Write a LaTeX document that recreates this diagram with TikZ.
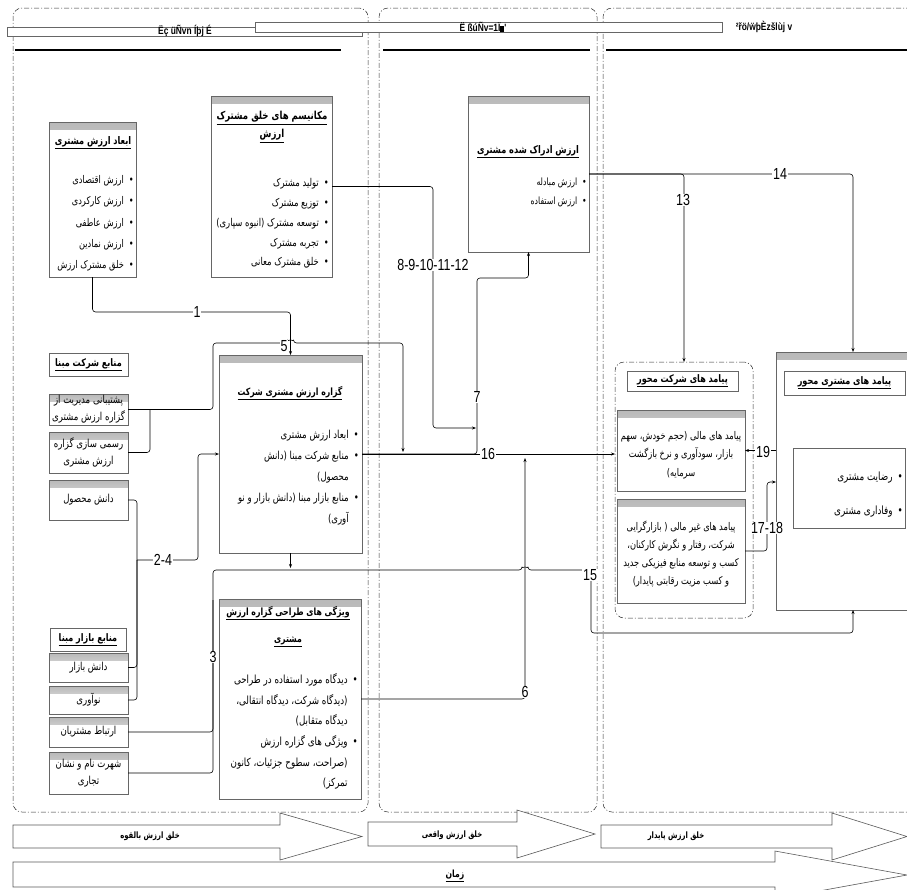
\documentclass[tikz,border=0pt]{standalone}
\usepackage{fontspec}
\setmainfont{Liberation Sans}
\newfontfamily\fa[Script=Arabic,FakeStretch=0.78]{DejaVu Sans}
\newfontfamily\nm[FakeStretch=0.78]{Liberation Sans}
\newfontfamily\gb[FakeStretch=0.8]{Liberation Sans}
\TeXXeTstate=1
\usetikzlibrary{arrows.meta}
\newcommand\rl[1]{\beginR#1\endR}
\newcommand\ult[1]{$\underline{\hbox{\beginR#1\endR}}$}
\newcommand\bu{•\hspace*{5pt}}
\newcommand\ind{\phantom{•}\hspace*{5pt}}
\newcommand\bx[6]{\node[#1, minimum width={#5pt-#3pt}, minimum height={#6pt-#4pt}] (#2) at ({(#3+#5)/2},{(#4+#6)/2}) {};}
\begin{document}
\begin{tikzpicture}[x=1pt,y=-1pt,
  box/.style={draw=gray!80!black, line width=0.7pt, fill=white, inner sep=0pt, outer sep=0pt,
    path picture={\fill[top color=gray!55, bottom color=white] (path picture bounding box.north west) rectangle ([yshift=-7pt]path picture bounding box.north east);}},
  plain/.style={draw=gray!80!black, line width=0.6pt, fill=white, inner sep=0pt, outer sep=0pt},
  region/.style={draw=gray!35!black, line width=0.5pt, dash pattern=on 5pt off 2pt on 1pt off 2pt, rounded corners=9pt, inner sep=0pt, outer sep=0pt},
  conn/.style={draw=black, line width=0.6pt, rounded corners=3pt},
  tip/.style={-{Stealth[length=4pt,width=3pt]}},
  lab/.style={fill=white, inner sep=0.6pt, font=\nm\fontsize{16}{16}\selectfont},
  tx/.style={inner sep=0pt, align=right, font=\fa\fontsize{11}{20}\selectfont},
  tc/.style={inner sep=0pt, align=center, font=\fa\fontsize{11}{17}\selectfont},
  ttl/.style={inner sep=0pt, align=center, font=\fa\bfseries\fontsize{10.5}{18}\selectfont},
  arw/.style={draw=gray!70!black, line width=0.6pt, fill=white},
  hdr/.style={inner sep=0pt, font=\gb\bfseries\fontsize{10.5}{10}\selectfont}
]
\useasboundingbox (0,0) rectangle (907,889);
% regions
\bx{region}{R1}{13}{8}{368}{812}
\bx{region}{R2}{379}{8}{597}{812}
\bx{region}{R3}{603}{8}{930}{812}
% headers
\bx{plain}{H1}{7}{27}{362}{36}
\bx{plain}{H2}{255}{22}{722}{32}
\node[hdr] (h1) at (185,31) {Ëç üÑvn Íþj É};
\node[hdr] (h2) at (483,27) {Ë ßúÑv=1Ï\rule[-1pt]{4pt}{6pt}'};
\node[hdr] (h3) at (764,27) {²řö/ẅþÈzšlùj v};
\draw[line width=1.6pt] (15,50) -- (341,50);
\draw[line width=1.6pt] (383,50) -- (590,50);
\draw[line width=1.6pt] (606,50) -- (907,50);
% main boxes
\bx{box}{A}{49}{122}{136}{277}
\bx{box}{B}{211}{96}{332}{277}
\bx{box}{C}{468}{96}{589}{252}
\bx{box}{D}{219}{355}{362}{553}
\bx{box}{E}{219}{599}{361}{799}
% left column
\bx{plain}{K0}{49}{353}{128}{376}
\bx{box}{K1}{49}{394}{128}{425}
\bx{box}{K2}{49}{432}{128}{473}
\bx{box}{K3}{49}{480}{128}{520}
\bx{plain}{M0}{50}{628}{126}{651}
\bx{box}{M1}{49}{653}{128}{682}
\bx{box}{M2}{49}{686}{128}{714}
\bx{box}{M3}{49}{717}{128}{747}
\bx{box}{M4}{49}{752}{128}{794}
% right part
\bx{region}{G}{615}{362}{753}{618}
\bx{plain}{G0}{627}{371}{738}{391}
\bx{box}{F1}{617}{410}{745}{491}
\bx{box}{F2}{617}{499}{745}{603}
\bx{box}{CU}{776}{352}{930}{610}
\bx{plain}{CU0}{784}{371}{905}{395}
\bx{plain}{CU1}{793}{448}{905}{528}
% texts
\node[ttl] (tA0) at (93,143) {\ult{ابعاد ارزش مشتری}};
\node[tx, anchor=east, font=\fa\fontsize{10.6}{21.25}\selectfont] (tA1) at (134,223.5)
 {\rl{\bu ارزش اقتصادی}\\\rl{\bu ارزش کارکردی}\\\rl{\bu ارزش عاطفی}\\\rl{\bu ارزش نمادین}\\\rl{\bu خلق مشترک ارزش}};
\node[ttl, font=\fa\bfseries\fontsize{11}{18}\selectfont] (tB0) at (272,127) {\ult{مکانیسم های خلق مشترک}\\\ult{ارزش}};
\node[tx, anchor=east, font=\fa\fontsize{10.8}{19.75}\selectfont] (tB1) at (329,223.5)
 {\rl{\bu تولید مشترک}\\\rl{\bu توزیع مشترک}\\\rl{\bu توسعه مشترک (انبوه سپاری)}\\\rl{\bu تجربه مشترک}\\\rl{\bu خلق مشترک معانی}};
\node[ttl] (tC0) at (528,152) {\ult{ارزش ادراک شده مشتری}};
\node[tx, anchor=east, font=\fa\fontsize{10}{19}\selectfont] (tC1) at (587,192.5)
 {\rl{\bu ارزش مبادله}\\\rl{\bu ارزش استفاده}};
\node[ttl, font=\fa\bfseries\fontsize{10}{18}\selectfont] (tD0) at (290,393) {\ult{گزاره ارزش مشتری شرکت}};
\node[tx, anchor=east, font=\fa\fontsize{11}{21}\selectfont] (tD1) at (359,478)
 {\rl{\bu ابعاد ارزش مشتری}\\\rl{\bu منابع شرکت مبنا (دانش}\\\rl{\ind محصول)}\\\rl{\bu منابع بازار مبنا (دانش بازار و نو}\\\rl{\ind آوری)}};
\node[ttl, font=\fa\bfseries\fontsize{10}{27}\selectfont] (tE0) at (288,626.5) {\ult{ویژگی های طراحی گزاره ارزش}\\\ult{مشتری}};
\node[tx, anchor=east, font=\fa\fontsize{11.2}{20.6}\selectfont] (tE1) at (358,731.5)
 {\rl{\bu دیدگاه مورد استفاده در طراحی}\\\rl{\ind (دیدگاه شرکت، دیدگاه انتقالی،}\\\rl{\ind دیدگاه متقابل)}\\\rl{\bu ویژگی های گزاره ارزش}\\\rl{\ind (صراحت، سطوح جزئیات، کانون}\\\rl{\ind تمرکز)}};
\node[ttl, font=\fa\bfseries\fontsize{10.4}{17}\selectfont] (tK0) at (K0) {\ult{منابع شرکت مبنا}};
\node[tc] (tK1) at (K1) {\rl{پشتیبانی مدیریت از}\\\rl{گزاره ارزش مشتری}};
\node[tc] (tK2) at (K2) {\rl{رسمی سازی گزاره}\\\rl{ارزش مشتری}};
\node[tc] (tK3) at (K3) {\rl{دانش محصول}};
\node[ttl, font=\fa\bfseries\fontsize{10.4}{17}\selectfont] (tM0) at (M0) {\ult{منابع بازار مبنا}};
\node[tc] (tM1) at (M1) {\rl{دانش بازار}};
\node[tc] (tM2) at (M2) {\rl{نوآوری}};
\node[tc] (tM3) at (M3) {\rl{ارتباط مشتریان}};
\node[tc] (tM4) at (M4) {\rl{شهرت نام و نشان}\\\rl{تجاری}};
\node[ttl, font=\fa\bfseries\fontsize{10.4}{17}\selectfont] (tG0) at (G0) {\ult{پیامد های شرکت محور}};
\node[tc, font=\fa\fontsize{10.6}{18.5}\selectfont] (tF1) at (681,455) {\rl{پیامد های مالی (حجم خودش، سهم}\\\rl{بازار، سودآوری و نرخ بازگشت}\\\rl{سرمایه)}};
\node[tc, font=\fa\fontsize{10.6}{18.3}\selectfont] (tF2) at (681,554) {\rl{پیامد های غیر مالی ( بازارگرایی}\\\rl{شرکت، رفتار و نگرش کارکنان،}\\\rl{کسب و توسعه منابع فیزیکی جدید}\\\rl{و کسب مزیت رقابتی پایدار)}};
\node[ttl, font=\fa\bfseries\fontsize{10.4}{17}\selectfont] (tCU0) at (CU0) {\ult{پیامد های مشتری محور}};
\node[tx, anchor=east, font=\fa\fontsize{11.3}{34}\selectfont] (tCU1) at (903,495) {\rl{\bu رضایت مشتری}\\\rl{\bu وفاداری مشتری}};
% connectors
\draw[conn,tip] (A.south) |- (290.5,312) -- (D.north);
\draw[conn] (K2.east) -| (150,409.5);
\draw[conn,tip] (K1.east) -- (213,409.5) -- (213,343) -- (287.5,343) arc (180:360:3) -- (403,343) -- (403,452);
\draw[conn] (K3.east) -| (137,560);
\draw[conn] (M1.east) -| (137,560);
\draw[conn] (M2.east) -| (137,560);
\draw[conn,tip] (137,560) -- (198,560) |- (D.west);
\draw[conn,tip] (D.south) -- (290.5,568);
\draw[conn,tip] (M3.east) -| (213,570) -- (522,570) arc (180:360:3) -- (591,570) -- (591,633) -| (CU.south);
\draw[conn] (M4.east) -| (213,600);
\draw[conn,tip] (E.east) -| (525,458);
\draw[conn,tip] (D.east) -- (G.west |- D.east);
\draw[conn,tip] (D.east) -| (477,278) -| (C.south);
\draw[conn,tip] (B.east) -| (433,428) -- (476,428);
\draw[conn,tip] (C.east) -| (G.north);
\draw[conn,tip] (C.east) -| (CU.north);
\draw[conn,tip] (CU.west |- F1.east) -- (F1.east);
\draw[conn,tip] (F2.east) -| (767,482) -- (CU.west |- 767,482);
% labels
\node[lab] (l1) at (197,312) {1};
\node[lab] (l5) at (284,346) {5};
\node[lab] (l24) at (163,560) {2-4};
\node[lab] (l3) at (213,657) {3};
\node[lab] (l6) at (525,692) {6};
\node[lab] (l7) at (477,397) {7};
\node[lab] (l8) at (433,265) {8-9-10-11-12};
\node[lab] (l13) at (683,200) {13};
\node[lab] (l14) at (780,174) {14};
\node[lab] (l15) at (590,575) {15};
\node[lab] (l16) at (488,454) {16};
\node[lab] (l17) at (767,528) {17-18};
\node[lab] (l19) at (763,452) {19};
% bottom arrows
\draw[arw] (13,825) -- (280,825) -- (280,813) -- (362,836.5) -- (280,860) -- (280,848) -- (13,848) -- cycle;
\draw[arw] (368,822) -- (517,822) -- (517,810) -- (595,834) -- (517,858) -- (517,846) -- (368,846) -- cycle;
\draw[arw] (601,825) -- (832,825) -- (832,813) -- (907,836.5) -- (832,860) -- (832,848) -- (601,848) -- cycle;
\draw[arw] (13,862) -- (775,862) -- (775,851) -- (907,875) -- (775,899) -- (775,887) -- (13,887) -- cycle;
\node[ttl, font=\fa\bfseries\fontsize{8.8}{8}\selectfont] (b1) at (150,836) {\rl{خلق ارزش بالقوه}};
\node[ttl, font=\fa\bfseries\fontsize{8.8}{8}\selectfont] (b2) at (452,835) {\rl{خلق ارزش واقعی}};
\node[ttl, font=\fa\bfseries\fontsize{8.8}{8}\selectfont] (b3) at (676,836) {\rl{خلق ارزش پایدار}};
\node[ttl, font=\fa\bfseries\fontsize{9.9}{9}\selectfont] (b4) at (455,876) {\ult{زمان}};
\end{tikzpicture}
\end{document}
